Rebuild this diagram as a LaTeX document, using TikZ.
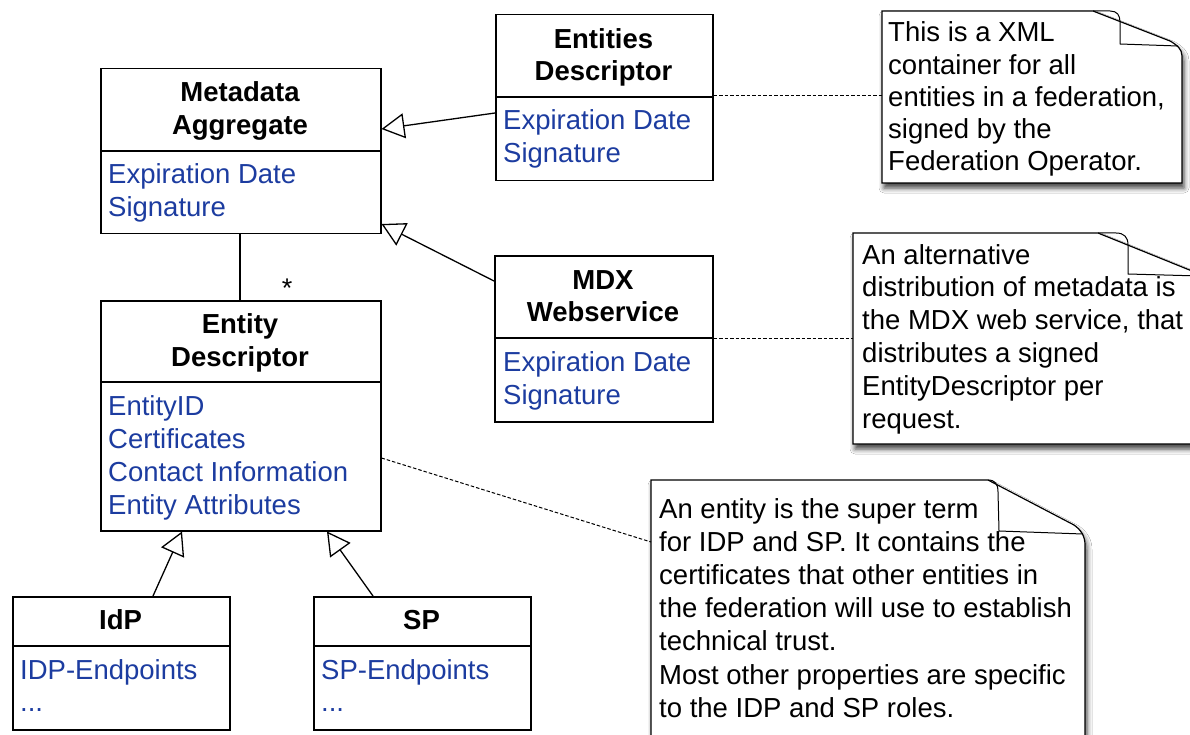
\documentclass[tikz,border=0pt]{standalone}
\usepackage{fontspec}
\setmainfont{Liberation Sans}
\usetikzlibrary{arrows.meta,shadows.blur}
\definecolor{attrblue}{RGB}{28,60,160}

\begin{document}
\begin{tikzpicture}[x=1pt,y=-1pt,
  classbox/.style={draw=black, line width=1.5pt, fill=white, rectangle, inner sep=0pt, anchor=north west},
  notearea/.style={rectangle, inner sep=0pt, anchor=north west},
  divider/.style={line width=1.5pt},
  classtitle/.style={font=\fontsize{27.5}{33}\selectfont\bfseries, anchor=base, inner sep=0pt},
  attr/.style={font=\fontsize{27.5}{33}\selectfont, text=attrblue, anchor=base west, inner sep=0pt},
  notetext/.style={font=\fontsize{27.5}{33}\selectfont, anchor=base west, inner sep=0pt},
  notebody/.style={draw=black, line width=1.2pt, fill=white,
    blur shadow={shadow xshift=2pt, shadow yshift=-5pt, shadow blur radius=5pt, shadow opacity=75}},
  fold/.style={draw=black, line width=1pt},
  inherit/.style={line width=1.3pt, -{Triangle[length=23pt,width=25pt,fill=white,line width=1.3pt]}},
  assoc/.style={line width=1.3pt},
  notelink/.style={line width=1pt, dash pattern=on 3.5pt off 2pt},
  mult/.style={font=\fontsize{27}{30}\selectfont, inner sep=0pt},
]
\clip (0,0) rectangle (1190,735);
\fill[white] (0,0) rectangle (1190,735);

% ---------- notes ----------
\path[notebody] (882,11) -- (1093,11) -- (1170,41) .. controls (1177,45) and (1182,49) .. (1182,56)
  -- (1182,183) -- (882,183) -- cycle;
\draw[fold] (1093,11) -- (1110,11) .. controls (1117,11) and (1120,15) .. (1120,22) -- (1120,44) -- (1178,46);
\node[notearea, minimum width=300pt, minimum height=172pt] (noteA) at (882,11) {};
\foreach \txt [count=\i] in {This is a XML, container for all, {entities in a federation,}, signed by the, Federation Operator.}
  \node[notetext] (noteA-\i) at (888, {42+32.2*(\i-1)}) {\txt};

\path[notebody] (853,233) -- (1098,233) -- (1192,271) .. controls (1199,275) and (1203,280) .. (1203,288)
  -- (1203,444) -- (853,444) -- cycle;
\draw[fold] (1098,233) -- (1116,233) .. controls (1124,233) and (1128,237) .. (1128,245) -- (1128,274) -- (1200,276);
\node[notearea, minimum width=350pt, minimum height=211pt] (noteB) at (853,233) {};
\foreach \txt [count=\i] in {An alternative, distribution of metadata is, {the MDX web service, that}, distributes a signed, EntityDescriptor per, request.}
  \node[notetext] (noteB-\i) at (862, {264+32.8*(\i-1)}) {\txt};

\path[notebody] (651,480) -- (988,480) -- (1074,525) .. controls (1081,530) and (1085,536) .. (1085,545)
  -- (1085,770) -- (651,770) -- cycle;
\draw[fold] (988,480) .. controls (995,480) and (998,484) .. (998,492) -- (999,531) -- (1083,534);
\node[notearea, minimum width=434pt, minimum height=290pt] (noteC) at (651,480) {};
\foreach \txt [count=\i] in {An entity is the super term, for IDP and SP. It contains the, certificates that other entities in, the federation will use to establish, technical trust., Most other properties are specific, to the IDP and SP roles.}
  \node[notetext] (noteC-\i) at (659, {518+33.2*(\i-1)}) {\txt};

% ---------- classes ----------
% Metadata Aggregate
\node[classbox, minimum width=280pt, minimum height=165pt] (ma) at (100,68) {};
\draw[divider] (ma.west |- 0,151) -- (ma.east |- 0,151);
\node[classtitle] (ma-t1) at (240,102) {Metadata};
\node[classtitle] (ma-t2) at (240,135) {Aggregate};
\node[attr] (ma-a1) at (108,184) {Expiration Date};
\node[attr] (ma-a2) at (108,217) {Signature};

% Entities Descriptor
\node[classbox, minimum width=217pt, minimum height=166pt] (ed) at (495,14) {};
\draw[divider] (ed.west |- 0,97) -- (ed.east |- 0,97);
\node[classtitle] (ed-t1) at (603.5,49) {Entities};
\node[classtitle] (ed-t2) at (603.5,81) {Descriptor};
\node[attr] (ed-a1) at (503,130) {Expiration Date};
\node[attr] (ed-a2) at (503,163) {Signature};

% MDX Webservice
\node[classbox, minimum width=218pt, minimum height=166pt] (mdx) at (494,255) {};
\draw[divider] (mdx.west |- 0,338) -- (mdx.east |- 0,338);
\node[classtitle] (mdx-t1) at (603,289) {MDX};
\node[classtitle] (mdx-t2) at (603,321) {Webservice};
\node[attr] (mdx-a1) at (503,371) {Expiration Date};
\node[attr] (mdx-a2) at (503,404) {Signature};

% Entity Descriptor
\node[classbox, minimum width=280pt, minimum height=230pt] (ent) at (100,300) {};
\draw[divider] (ent.west |- 0,382) -- (ent.east |- 0,382);
\node[classtitle] (ent-t1) at (240,333) {Entity};
\node[classtitle] (ent-t2) at (240,366) {Descriptor};
\node[attr] (ent-a1) at (108,415) {EntityID};
\node[attr] (ent-a2) at (108,448) {Certificates};
\node[attr] (ent-a3) at (108,481) {Contact Information};
\node[attr] (ent-a4) at (108,514) {Entity Attributes};

% IdP
\node[classbox, minimum width=217pt, minimum height=133pt] (idp) at (12,596) {};
\draw[divider] (idp.west |- 0,646) -- (idp.east |- 0,646);
\node[classtitle] (idp-t1) at (120.5,629) {IdP};
\node[attr] (idp-a1) at (20,679) {IDP-Endpoints};
\node[attr] (idp-a2) at (20,711) {...};

% SP
\node[classbox, minimum width=217pt, minimum height=133pt] (sp) at (313,596) {};
\draw[divider] (sp.west |- 0,646) -- (sp.east |- 0,646);
\node[classtitle] (sp-t1) at (421.5,629) {SP};
\node[attr] (sp-a1) at (321,679) {SP-Endpoints};
\node[attr] (sp-a2) at (321,711) {...};

% ---------- relations ----------
\draw[inherit] (ed.west |- 0,113) -- (ma.east |- 0,129);
\draw[inherit] (mdx.west |- 0,281) -- (ma.east |- 0,224);
\draw[assoc] (ma.south -| 240,0) -- (ent.north -| 240,0);
\node[mult] (star) at (287,288) {*};
\draw[inherit] (idp.north -| 153,0) -- (ent.south -| 182,0);
\draw[inherit] (sp.north -| 373,0) -- (ent.south -| 327,0);

% ---------- note links ----------
\draw[notelink] (ed.east |- 0,96) -- (noteA.west |- 0,96);
\draw[notelink] (mdx.east |- 0,338) -- (noteB.west |- 0,338);
\draw[notelink] (ent.east |- 0,458) -- (noteC.west |- 0,542);
\end{tikzpicture}
\end{document}
